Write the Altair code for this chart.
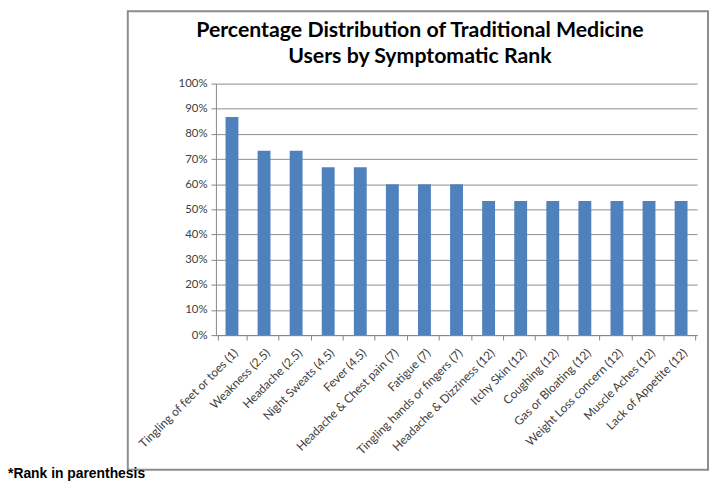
import altair as alt
import pandas as pd

symptoms = [
    "Tingling of feet or toes (1)", "Weakness (2.5)", "Headache (2.5)",
    "Night Sweats (4.5)", "Fever (4.5)", "Headache & Chest pain (7)",
    "Fatigue (7)", "Tingling hands or fingers (7)", "Headache & Dizziness (12)",
    "Itchy Skin (12)", "Coughing (12)", "Gas or Bloating (12)",
    "Weight Loss concern (12)", "Muscle Aches (12)", "Lack of Appetite (12)",
]
shares = [0.867, 0.733, 0.733, 0.667, 0.667, 0.600, 0.600, 0.600,
          0.533, 0.533, 0.533, 0.533, 0.533, 0.533, 0.533]
y_ticks = [0, 0.1, 0.2, 0.3, 0.4, 0.5, 0.6, 0.7, 0.8, 0.9, 1.0]
title_lines = ["Percentage Distribution of Traditional Medicine",
               "Users by Symptomatic Rank"]
footnote = "*Rank in parenthesis"

df = pd.DataFrame({"symptom": symptoms, "share": shares})

bars = alt.Chart(df).mark_bar(size=13, color="#4F81BD").encode(
    x=alt.X("symptom:N", sort=symptoms, title=None,
            axis=alt.Axis(labelAngle=-45, labelFont="Lato", labelFontSize=12,
                          labelColor="#404040", tickBand="extent", tickSize=5,
                          tickColor="#868686", domainColor="#868686",
                          labelPadding=7, grid=False, labelLimit=300)),
    y=alt.Y("share:Q", title=None,
            scale=alt.Scale(domain=[0, 1], nice=False),
            axis=alt.Axis(values=y_ticks, format=".0%", labelFont="Lato",
                          labelFontSize=11.5, labelColor="#404040", tickSize=5,
                          tickColor="#868686", domainColor="#868686",
                          gridColor="#8e8e8e", labelPadding=4)),
)

one = pd.DataFrame({"a": [0]})
frame = alt.Chart(one).mark_rect(fill=None, stroke="#8c8c8c", strokeWidth=2).encode(
    x=alt.value(-89), x2=alt.value(497), y=alt.value(-73), y2=alt.value(390)
)
title1 = alt.Chart(one).mark_text(align="center", baseline="alphabetic",
                                  font="Lato", fontWeight="bold", fontSize=21.5,
                                  color="#000000").encode(
    x=alt.value(206), y=alt.value(-47), text=alt.value(title_lines[0])
)
title2 = alt.Chart(one).mark_text(align="center", baseline="alphabetic",
                                  font="Lato", fontWeight="bold", fontSize=21.5,
                                  color="#000000").encode(
    x=alt.value(206), y=alt.value(-21), text=alt.value(title_lines[1])
)
note = alt.Chart(one).mark_text(align="left", baseline="alphabetic",
                                font="Liberation Sans", fontWeight="bold",
                                fontSize=14, color="#000000").encode(
    x=alt.value(-210), y=alt.value(398), text=alt.value(footnote)
)

chart = alt.layer(frame, title1, title2, bars, note).properties(
    width=486, height=254,
    autosize=alt.AutoSizeParams(type="none"),
    padding={"left": 210, "top": 74, "right": 13, "bottom": 146},
).configure_view(stroke=None)

chart.save("out.html", embed_options={"renderer": "svg", "actions": False})
